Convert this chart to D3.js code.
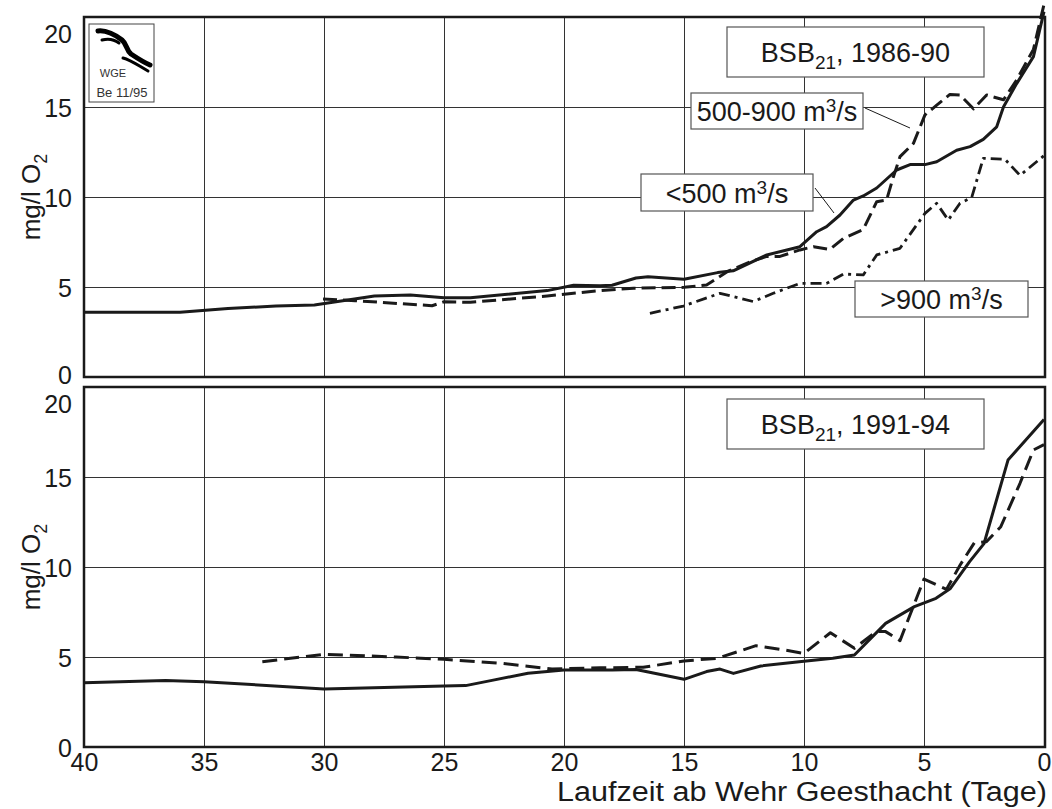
<!DOCTYPE html>
<html><head><meta charset="utf-8">
<script src="https://cdn.jsdelivr.net/npm/d3@7/dist/d3.min.js"></script>
<style>
body{margin:0;background:#fff;}
svg{display:block;font-family:"Liberation Sans",Arial,Helvetica,sans-serif;}
</style></head>
<body><svg id="c" width="1052" height="809"></svg>
<script>
// ---- data (days before Geesthacht weir, BSB21 mg/l O2) ----
const yTicks = [0, 5, 10, 15, 20];
const xTicks = [40, 35, 30, 25, 20, 15, 10, 5, 0];

// 1986-90, <500 m3/s (solid)
const top_lt500_days = [40,36,34,32,30.4,27.9,26.4,25,23.9,20.7,19.6,18.5,18,17,16.5,15,13.6,12.95,11.55,10.17,9.47,9.06,8.5,7.94,7.53,6.97,6.14,5.58,4.96,4.47,3.64,3.08,2.53,1.97,1.69,1.14,0.44,0];
const top_lt500_vals = [3.6,3.6,3.8,3.95,4.0,4.5,4.55,4.4,4.4,4.8,5.1,5.07,5.1,5.5,5.57,5.43,5.8,5.9,6.78,7.24,8.07,8.35,9.0,9.83,10.06,10.5,11.5,11.8,11.8,11.96,12.6,12.8,13.2,13.9,15.0,16.3,17.8,20.3];
// 1986-90, 500-900 m3/s (dashed)
const top_mid_days = [30.04,28.7,25.5,25,23.9,20.7,18.5,17.1,15,14.06,13.2,12.25,11.55,11,10.17,9.6,8.92,8.36,7.53,6.97,6.56,6.28,6,5.44,4.96,4.47,3.92,3.5,2.94,2.39,1.69,1.14,0.44,0];
const top_mid_vals = [4.33,4.24,3.96,4.18,4.15,4.5,4.8,4.93,4.98,5.11,5.85,6.4,6.7,6.7,7.06,7.24,7.09,7.7,8.2,9.74,9.83,11.1,12.24,12.98,14.56,15.1,15.7,15.67,14.9,15.67,15.4,16.5,18.2,20.7];
// 1986-90, >900 m3/s (dash-dot)
const top_gt900_days = [16.42,15.03,13.5,12.11,11.28,10.17,9.06,8.36,7.53,6.97,6.0,4.96,4.47,3.99,3.5,3.01,2.53,1.63,1.0,0];
const top_gt900_vals = [3.54,3.94,4.65,4.19,4.65,5.2,5.2,5.72,5.67,6.78,7.15,9.09,9.65,8.72,9.65,9.98,12.15,12.1,11.2,12.3];

// 1991-94 (solid)
const bot_solid_days = [40,36.6,35,30,25,24.1,23,21.5,20,18,17,15,14.06,13.5,12.94,11.8,10.2,8.8,7.9,6.6,5.4,4.5,3.9,3.1,2.5,1.5,0];
const bot_solid_vals = [3.57,3.69,3.63,3.22,3.39,3.41,3.7,4.1,4.28,4.28,4.31,3.76,4.19,4.33,4.09,4.5,4.74,4.93,5.11,6.87,7.8,8.26,8.81,10.3,11.3,15.94,18.2];
// 1991-94 (dashed)
const bot_dash_days = [32.57,30,27,25,22.6,20.5,18.5,16.7,15,13.6,12,11,10,8.9,7.9,7,6.6,6,5,4.06,3.5,2.9,2.4,1.8,1,0.44,0];
const bot_dash_vals = [4.74,5.15,5.0,4.87,4.65,4.33,4.4,4.43,4.78,4.93,5.63,5.43,5.2,6.35,5.48,6.41,6.41,5.91,9.33,8.76,10.1,11.35,11.4,12.24,14.65,16.5,16.8];

const zip = (d, v) => d.map((x, i) => ({d: x, v: v[i]}));

// ---- layout ----
const svg = d3.select("#c");
const X0 = 84, X1 = 1044;
const x = d3.scaleLinear().domain([40, 0]).range([X0, X1]);
const panels = [
  {y: d3.scaleLinear().domain([0, 20]).range([377, 17])},
  {y: d3.scaleLinear().domain([0, 20]).range([747, 387])}
];
const ink = "#1a1a1a";
const FF = "Liberation Sans, Arial, sans-serif";

panels.forEach((p, pi) => {
  const g = svg.append("g");
  const [yb, yt] = p.y.range();
  // horizontal grid
  g.append("g").attr("transform", `translate(${X0},0)`)
    .call(d3.axisLeft(p.y).tickValues([5, 10, 15]).tickSize(-(X1 - X0)).tickFormat(""))
    .call(s => s.select(".domain").remove())
    .call(s => s.selectAll("line").attr("stroke", "#333").attr("stroke-width", 1));
  // vertical grid
  g.append("g").attr("transform", `translate(0,${yb})`)
    .call(d3.axisBottom(x).tickValues([35, 30, 25, 20, 15, 10, 5]).tickSize(-(yb - yt)).tickFormat(""))
    .call(s => s.select(".domain").remove())
    .call(s => s.selectAll("line").attr("stroke", "#333").attr("stroke-width", 1));
  // y labels
  const ya = g.append("g").attr("transform", `translate(${X0},0)`)
    .call(d3.axisLeft(p.y).tickValues(yTicks).tickSize(0).tickPadding(12))
    .call(s => s.select(".domain").remove());
  ya.selectAll("text").attr("font-size", 25).attr("fill", ink).attr("font-family", FF)
    .attr("dy", d => d === 20 ? "1.0em" : (d === 0 && pi === 0 ? "0.24em" : "0.36em"));
  // y title
  const cy = p.y(10);
  const t = g.append("text").attr("transform", `translate(40,${cy}) rotate(-90)`)
    .attr("text-anchor", "middle").attr("font-size", 26).attr("fill", ink);
  t.append("tspan").text("mg/l O");
  t.append("tspan").attr("font-size", 18).attr("dy", 7).text("2");
});

// bottom x axis labels
const xa = svg.append("g").attr("transform", `translate(0,747)`)
  .call(d3.axisBottom(x).tickValues(xTicks).tickSize(0).tickPadding(6))
  .call(s => s.select(".domain").remove());
xa.selectAll("text").attr("font-size", 25).attr("fill", ink).attr("font-family", FF);
svg.append("text").attr("x", 1047).attr("y", 801).attr("text-anchor", "end")
  .attr("font-size", 27).attr("fill", ink)
  .attr("textLength", 490).attr("lengthAdjust", "spacingAndGlyphs")
  .text("Laufzeit ab Wehr Geesthacht (Tage)");

// lines
function drawLine(p, data, dash, w) {
  const line = d3.line().x(d => x(d.d)).y(d => p.y(d.v)).curve(d3.curveLinear);
  svg.append("path").datum(data).attr("d", line).attr("fill", "none")
    .attr("stroke", ink).attr("stroke-width", w || 3)
    .attr("stroke-linejoin", "round")
    .attr("stroke-dasharray", dash || null);
}
drawLine(panels[0], zip(top_lt500_days, top_lt500_vals), null, 3);
drawLine(panels[0], zip(top_mid_days, top_mid_vals), "14,6", 3);
drawLine(panels[0], zip(top_gt900_days, top_gt900_vals), "11,5,3,5", 2.8);
drawLine(panels[1], zip(bot_solid_days, bot_solid_vals), null, 3);
drawLine(panels[1], zip(bot_dash_days, bot_dash_vals), "15,7", 3);

// frames
panels.forEach(p => {
  const [yb, yt] = p.y.range();
  svg.append("rect").attr("x", X0).attr("y", yt).attr("width", X1 - X0 + 1).attr("height", yb - yt)
    .attr("fill", "none").attr("stroke", ink).attr("stroke-width", 2.5);
});

// label boxes
function box(x0, y0, w, h, parts) {
  const g = svg.append("g");
  g.append("rect").attr("x", x0).attr("y", y0).attr("width", w).attr("height", h)
    .attr("fill", "#fff").attr("stroke", "#555").attr("stroke-width", 1.2);
  const t = g.append("text").attr("x", x0 + w / 2).attr("y", y0 + h / 2 + 10)
    .attr("text-anchor", "middle").attr("font-size", 27).attr("fill", ink);
  parts.forEach(pt => {
    const s = t.append("tspan").text(pt.t);
    if (pt.sub) s.attr("font-size", 19).attr("dy", 7);
    if (pt.sup) s.attr("font-size", 19).attr("dy", -9);
    if (pt.back) s.attr("dy", pt.back);
  });
}
function leader(x1, y1, x2, y2) {
  svg.append("line").attr("x1", x1).attr("y1", y1).attr("x2", x2).attr("y2", y2)
    .attr("stroke", ink).attr("stroke-width", 1);
}
leader(865, 108, 910, 128);
leader(815, 188, 834, 213);
box(727, 27, 257, 50, [{t: "BSB"}, {t: "21", sub: true}, {t: ", 1986-90", back: -7}]);
box(691, 93, 172, 36, [{t: "500-900 m"}, {t: "3", sup: true}, {t: "/s", back: 9}]);
box(641, 174, 172, 37, [{t: "<500 m"}, {t: "3", sup: true}, {t: "/s", back: 9}]);
box(855, 281, 173, 36, [{t: ">900 m"}, {t: "3", sup: true}, {t: "/s", back: 9}]);
box(727, 399, 257, 50, [{t: "BSB"}, {t: "21", sub: true}, {t: ", 1991-94", back: -7}]);

// logo
const lg = svg.append("g");
lg.append("rect").attr("x", 89).attr("y", 24).attr("width", 65).attr("height", 78)
  .attr("fill", "#fff").attr("stroke", "#444").attr("stroke-width", 1);
lg.append("path").attr("d", "M98,31 C106,30 116,35 122,40 C127,44 126,50 131,54 C137,58 143,62 150,65")
  .attr("fill", "none").attr("stroke", "#000").attr("stroke-width", 5).attr("stroke-linecap", "round");
lg.append("path").attr("d", "M102,40 C109,38 115,40 119,43")
  .attr("fill", "none").attr("stroke", "#000").attr("stroke-width", 3).attr("stroke-linecap", "round");
lg.append("path").attr("d", "M123,58 C131,60 139,66 148,71")
  .attr("fill", "none").attr("stroke", "#000").attr("stroke-width", 3).attr("stroke-linecap", "round");
lg.append("text").attr("x", 113).attr("y", 77).attr("text-anchor", "middle").attr("font-size", 11).attr("fill", "#333").text("WGE");
lg.append("text").attr("x", 122).attr("y", 97).attr("text-anchor", "middle").attr("font-size", 13).attr("fill", "#333").text("Be 11/95");
</script></body></html>
